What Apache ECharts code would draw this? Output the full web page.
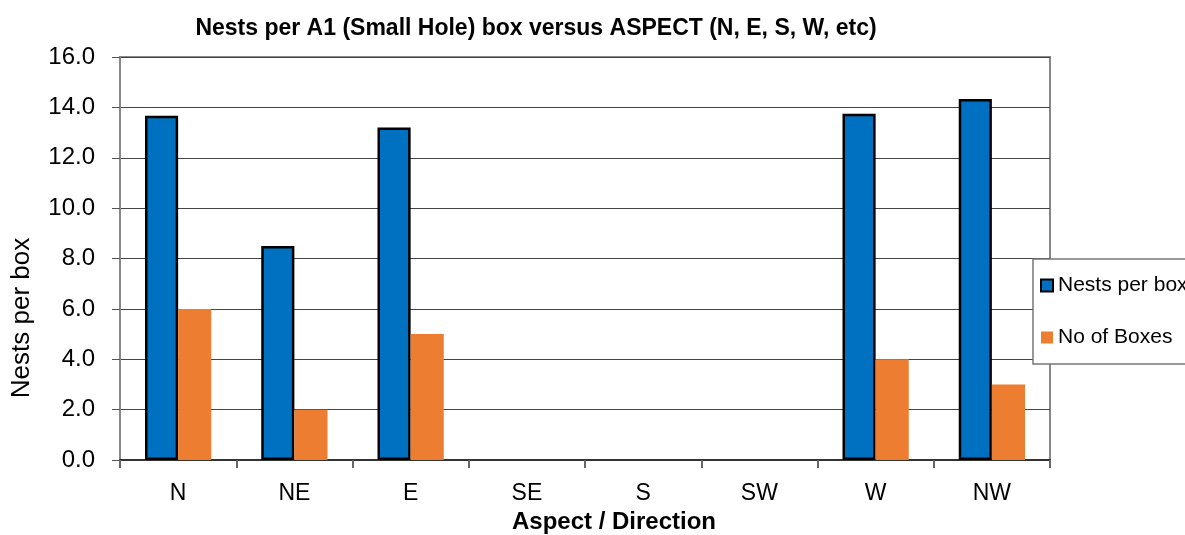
<!DOCTYPE html>
<html>
<head>
<meta charset="utf-8">
<script src="https://cdn.jsdelivr.net/npm/echarts@6/dist/echarts.min.js"></script>
<style>html,body{margin:0;padding:0;background:#fff;}#c{width:1185px;height:535px;}</style>
</head>
<body>
<div id="c"></div>
<script>
const categories = ['N', 'NE', 'E', 'SE', 'S', 'SW', 'W', 'NW'];
const nestsPerBox = [13.67, 8.5, 13.2, 0, 0, 0, 13.75, 14.33];
const noOfBoxes = [6, 2, 5, 0, 0, 0, 4, 3];
const seriesNames = ['Nests per box', 'No of Boxes'];
const chartTitle = 'Nests per A1 (Small Hole) box versus ASPECT (N, E, S, W, etc)';
const xTitle = 'Aspect / Direction';
const yTitle = 'Nests per box';

const FONT = 'Liberation Sans, Arial, sans-serif';
const chart = echarts.init(document.getElementById('c'));
chart.setOption({
  animation: false,
  backgroundColor: '#fff',
  title: {
    text: chartTitle, left: 531, top: 12, textAlign: 'center',
    textStyle: { fontFamily: FONT, fontSize: 23, fontWeight: 'bold', color: '#000' }
  },
  grid: { left: 120, right: 135, top: 57, bottom: 75, show: true, borderColor: '#888', borderWidth: 2 },
  legend: {
    orient: 'vertical', left: 1033, top: 259,
    backgroundColor: '#fff', borderColor: '#777', borderWidth: 1.5,
    padding: [16, 60, 16, 7], itemGap: 31, itemWidth: 12, itemHeight: 12,
    icon: 'rect',
    textStyle: { fontFamily: FONT, fontSize: 21, color: '#000' },
    data: seriesNames
  },
  xAxis: {
    type: 'category', data: categories,
    axisLine: { lineStyle: { color: '#333', width: 2 } },
    axisTick: { show: true, length: 8, lineStyle: { color: '#666', width: 2 } },
    axisLabel: { fontFamily: FONT, fontSize: 23, color: '#000', margin: 22 }
  },
  yAxis: {
    type: 'value', min: 0, max: 16, interval: 2,
    axisLine: { show: true, lineStyle: { color: '#888', width: 2 } },
    axisTick: { show: true, length: 8, lineStyle: { color: '#555', width: 1 } },
    axisLabel: { fontFamily: FONT, fontSize: 24, color: '#000', margin: 25, formatter: v => v.toFixed(1) },
    splitLine: { lineStyle: { color: '#444', width: 1 } }
  },
  graphic: [
    { type: 'text', x: 22, y: 318, rotation: Math.PI / 2,
      style: { text: yTitle, font: '26px ' + FONT, fill: '#000', textAlign: 'center', textVerticalAlign: 'middle' } },
    { type: 'text', x: 614, y: 522,
      style: { text: xTitle, font: 'bold 24px ' + FONT, fill: '#000', textAlign: 'center', textVerticalAlign: 'middle' } }
  ],
  series: [
    { name: seriesNames[0], type: 'bar', barGap: '0%', barCategoryGap: '43%',
      data: nestsPerBox.map(v => v === 0 ? { value: v, itemStyle: { borderWidth: 0 } } : v),
      itemStyle: { color: '#0070C0', borderColor: '#000', borderWidth: 2.5 } },
    { name: seriesNames[1], type: 'bar', data: noOfBoxes,
      itemStyle: { color: '#ED7D31' } }
  ]
});
</script>
</body>
</html>
